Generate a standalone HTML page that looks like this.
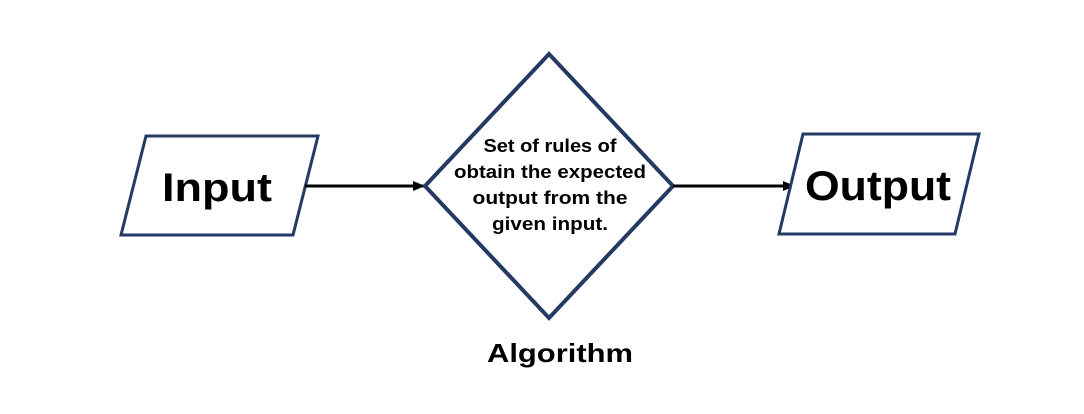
<!DOCTYPE html>
<html><head><style>
html,body{margin:0;padding:0;background:#fff;}
svg{display:block;}
text{font-family:"Liberation Sans",Arial,sans-serif;font-weight:bold;fill:#000;}
</style></head><body>
<svg width="1084" height="414" viewBox="0 0 1084 414" xmlns="http://www.w3.org/2000/svg">
<defs>
<marker id="a" markerWidth="12" markerHeight="12" refX="11" refY="6" orient="auto" markerUnits="userSpaceOnUse">
<path d="M0,1 L12,6 L0,11 z" fill="#000"/>
</marker>
</defs>
<polygon points="146,136 318,136 293,235 121,235" fill="#fff" stroke="#243a64" stroke-width="3"/>
<text x="217" y="201" font-size="40" text-anchor="middle" textLength="110" lengthAdjust="spacingAndGlyphs">Input</text>
<line x1="305" y1="186" x2="424" y2="186" stroke="#000" stroke-width="3" marker-end="url(#a)"/>
<polygon points="549,54 673,186 549,318 425,186" fill="#fff" stroke="#243a64" stroke-width="4"/>
<g font-size="18" text-anchor="middle" lengthAdjust="spacingAndGlyphs">
<text x="550" y="152" textLength="133" lengthAdjust="spacingAndGlyphs">Set of rules of</text>
<text x="550" y="178" textLength="192" lengthAdjust="spacingAndGlyphs">obtain the expected</text>
<text x="550" y="204" textLength="155" lengthAdjust="spacingAndGlyphs">output from the</text>
<text x="550" y="230" textLength="116" lengthAdjust="spacingAndGlyphs">given input.</text>
</g>
<line x1="673" y1="186" x2="794" y2="186" stroke="#000" stroke-width="3" marker-end="url(#a)"/>
<polygon points="803,134 979,134 955,234 779,234" fill="#fff" stroke="#243a64" stroke-width="3"/>
<text x="878" y="200" font-size="42" text-anchor="middle" textLength="146" lengthAdjust="spacingAndGlyphs">Output</text>
<text x="560" y="362" font-size="26" text-anchor="middle" textLength="146" lengthAdjust="spacingAndGlyphs">Algorithm</text>
</svg>
</body></html>
